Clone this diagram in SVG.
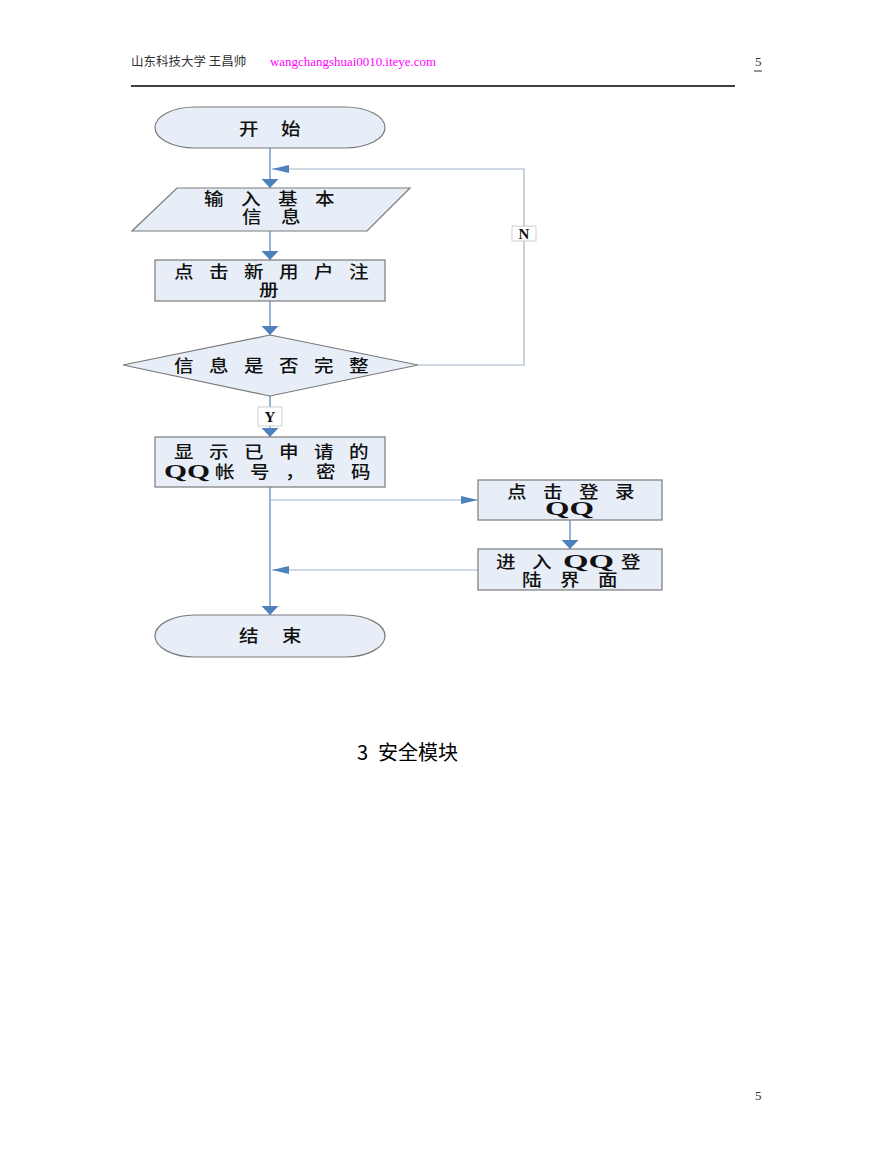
<svg xmlns="http://www.w3.org/2000/svg" width="893" height="1155" viewBox="0 0 893 1155">
<style>
.shape{fill:#e8eef7;stroke:#7a7a7a;stroke-width:1.2}
.t{font-family:"Noto Sans CJK SC","Noto Sans",sans-serif;font-size:17px;font-weight:500;fill:#111}
.q{font-family:"Liberation Serif",serif;font-weight:bold;font-size:18px;fill:#111}
.lb{font-family:"Liberation Serif",serif;font-weight:bold;font-size:15px;fill:#111}
.cb{stroke:#4f81bd;stroke-width:1.2;fill:none}
.cg{stroke:#a3b3c9;stroke-width:1.2;fill:none}
.box{fill:#fff;stroke:#cfcfcf;stroke-width:1}
</style>
<defs>
<marker id="av" markerUnits="userSpaceOnUse" viewBox="0 0 9 17" refX="9" refY="8.5" markerWidth="9" markerHeight="17" orient="auto"><path d="M0,0 L9,8.5 L0,17 z" fill="#4f81bd"/></marker>
<marker id="ah" markerUnits="userSpaceOnUse" viewBox="0 0 17 8" refX="17" refY="4" markerWidth="17" markerHeight="8" orient="auto"><path d="M0,0 L17,4 L0,8 z" fill="#4f81bd"/></marker>
</defs>
<rect width="893" height="1155" fill="#fff"/>
<g id="header">
<text x="131" y="66" font-family="Noto Sans CJK SC,sans-serif" font-size="12.5" fill="#333">山东科技大学 王昌帅</text>
<text x="270" y="66" font-family="Liberation Serif,serif" font-size="13" fill="#ff00ff" textLength="166" lengthAdjust="spacingAndGlyphs">wangchangshuai0010.iteye.com</text>
<text x="755" y="66" font-family="Liberation Serif,serif" font-size="13" fill="#333">5</text>
<line x1="754" y1="71" x2="762" y2="71" stroke="#333" stroke-width="1"/>
<line x1="131" y1="86" x2="735" y2="86" stroke="#000" stroke-width="1.5"/>
</g>
<g id="connectors">
<line class="cb" x1="270" y1="148" x2="270" y2="188" marker-end="url(#av)"/>
<line class="cb" x1="270" y1="231" x2="270" y2="260" marker-end="url(#av)"/>
<line class="cb" x1="270" y1="301" x2="270" y2="335" marker-end="url(#av)"/>
<polyline class="cg" points="418,365 524,365 524,169 272,169" marker-end="url(#ah)"/>
<line class="cb" x1="270" y1="396" x2="270" y2="437" marker-end="url(#av)"/>
<line class="cb" x1="270" y1="487" x2="270" y2="615" marker-end="url(#av)"/>
<line class="cg" x1="270" y1="500" x2="478" y2="500" marker-end="url(#ah)"/>
<line class="cb" x1="570" y1="520" x2="570" y2="549" marker-end="url(#av)"/>
<line class="cg" x1="478" y1="570" x2="272" y2="570" stroke="#8ea3c2" marker-end="url(#ah)"/>
<rect class="box" x="512" y="226" width="24" height="15"/>
<text class="lb" x="524" y="239" text-anchor="middle">N</text>
<rect class="box" x="258" y="407" width="24" height="19"/>
<text class="lb" x="270" y="422" text-anchor="middle">Y</text>
</g>
<g id="start">
<rect class="shape" x="155" y="107" width="230" height="41" rx="40" ry="20.5"/>
<text class="t" transform="translate(239,135) scale(1.15,1)" x="0 36.5">开始</text>
</g>
<g id="input">
<polygon class="shape" points="177,188 410,188 367,231 132,231"/>
<text class="t" transform="translate(204,205) scale(1.15,1)" x="0 32.2 64.3 96.5">输入基本</text>
<text class="t" transform="translate(242,223) scale(1.15,1)" x="0 33.9">信息</text>
</g>
<g id="register">
<rect class="shape" x="155" y="260" width="230" height="41"/>
<text class="t" transform="translate(174,278) scale(1.15,1)" x="0 30.4 60.9 91.3 121.7 152.2">点击新用户注</text>
<text class="t" transform="translate(259,296) scale(1.15,1)">册</text>
</g>
<g id="check">
<polygon class="shape" points="270,335 418,365 270,396 123,365"/>
<text class="t" transform="translate(174,372) scale(1.15,1)" x="0 30.4 60.9 91.3 121.7 152.2">信息是否完整</text>
</g>
<g id="show">
<rect class="shape" x="155" y="437" width="230" height="50"/>
<text class="t" transform="translate(174,458) scale(1.15,1)" x="0 30.4 60.9 91.3 121.7 152.2">显示已申请的</text>
<text class="q" x="164" y="478" textLength="46" lengthAdjust="spacingAndGlyphs">QQ</text>
<text class="t" transform="translate(215,478) scale(1.15,1)" x="0 30.4 60.9">帐号，</text>
<text class="t" transform="translate(316,478) scale(1.15,1)" x="0 30.4">密码</text>
</g>
<g id="login">
<rect class="shape" x="478" y="480" width="184" height="40"/>
<text class="t" transform="translate(507,498) scale(1.15,1)" x="0 31.3 62.6 93.9">点击登录</text>
<text class="q" x="545" y="515" textLength="49" lengthAdjust="spacingAndGlyphs">QQ</text>
</g>
<g id="enter">
<rect class="shape" x="478" y="549" width="184" height="41"/>
<text class="t" transform="translate(496,568) scale(1.15,1)" x="0 31.3">进入</text>
<text class="q" x="563" y="568" textLength="51" lengthAdjust="spacingAndGlyphs">QQ</text>
<text class="t" transform="translate(621,568) scale(1.15,1)">登</text>
<text class="t" transform="translate(522,586) scale(1.15,1)" x="0 33 66">陆界面</text>
</g>
<g id="end">
<rect class="shape" x="155" y="615" width="230" height="42" rx="40" ry="21"/>
<text class="t" transform="translate(239,642) scale(1.15,1)" x="0 37.4">结束</text>
</g>
<g id="caption">
<text x="357" y="760" font-family="Noto Sans CJK SC,sans-serif" font-size="20" fill="#000">3<tspan x="378">安全模块</tspan></text>
</g>
<g id="footer">
<text x="755" y="1100" font-family="Liberation Serif,serif" font-size="13" fill="#333">5</text>
</g>
</svg>
